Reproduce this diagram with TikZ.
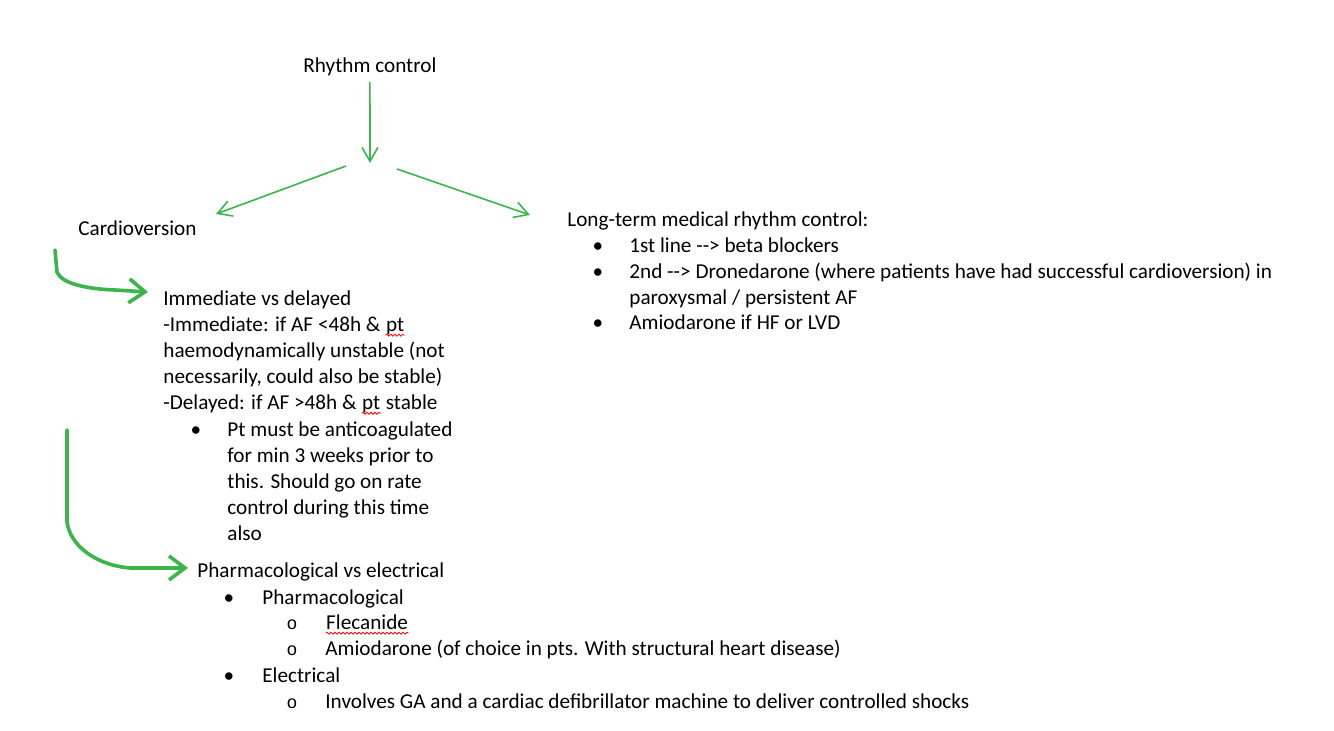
\documentclass[tikz,border=0pt]{standalone}
\usepackage{fontspec}
\setmainfont{Carlito}
\newfontfamily\listmono{Liberation Mono}
\usetikzlibrary{arrows.meta,decorations.pathmorphing}
\definecolor{arrowgreen}{RGB}{57,181,74}
\newcommand{\spellerr}[1]{\tikz[baseline=(w.base)]{\node[inner sep=0] (w) {#1};
  \draw[red,line width=0.4pt,decorate,decoration={snake,amplitude=0.5pt,segment length=2pt}] ([yshift=-1.6pt]w.base west) -- ([yshift=-1.6pt]w.base east);}}

\begin{document}
\begin{tikzpicture}[x=0.5pt,y=-0.5pt,
  every node/.style={font=\fontsize{10.6pt}{13pt}\selectfont},
  txt/.style={anchor=base west,inner sep=0,align=left},
  dot/.style={anchor=base,inner sep=0},
  thinarrow/.style={draw=arrowgreen,line width=0.8pt,-{Straight Barb[length=7pt,width=8pt]}},
  handarrow/.style={draw=arrowgreen,line width=1.8pt,line cap=round,line join=round,-{Straight Barb[length=8pt,width=12pt]}}]
\useasboundingbox (0,0) rectangle (1334,731);
% titles (multi-line nodes sit on the baseline of their last line)
\node[txt] (rhythm) at (303,73) {Rhythm control};
\node[txt] (cardio) at (78,236) {Cardioversion};
\node[txt] (longterm) at (567,227) {Long-term medical rhythm control:};
% long-term list
\node[dot] (lt1) at (598,253) {\textbullet};
\node[txt] (betablock) at (629,253) {1st line -\kern0pt-> beta blockers};
\node[dot] (lt2) at (598,279) {\textbullet};
\node[txt] (drone) at (629,305) {2nd -\kern0pt-> Dronedarone (where patients have had successful cardioversion) in\\paroxysmal / persistent AF};
\node[dot] (lt3) at (598,330) {\textbullet};
\node[txt] (amio) at (629,330) {Amiodarone if HF or LVD};
% immediate vs delayed
\node[txt] (timing) at (163,410) {Immediate vs delayed\\-Immediate: if AF <48h \& \spellerr{pt}\\haemodynamically unstable (not\\necessarily, could also be stable)\\-Delayed: if AF >48h \& \spellerr{pt} stable};
\node[dot] (tb1) at (196,437) {\textbullet};
\node[txt] (anticoag) at (227,541) {Pt must be anticoagulated\\for min 3 weeks prior to\\this. Should go on rate\\control during this time\\also};
% pharmacological vs electrical
\node[txt] (method) at (197,578) {Pharmacological vs electrical};
\node[dot] (mb1) at (229,605) {\textbullet};
\node[txt] (pharma) at (262,605) {Pharmacological};
\node[dot] (pb1) at (292,630) {\listmono\small o};
\node[txt] (fleca) at (325,630) {\spellerr{Flecanide}};
\node[dot] (pb2) at (292,656) {\listmono\small o};
\node[txt] (amiochoice) at (325,656) {Amiodarone (of choice in pts. With structural heart disease)};
\node[dot] (mb2) at (229,683) {\textbullet};
\node[txt] (elec) at (262,683) {Electrical};
\node[dot] (eb1) at (292,709) {\listmono\small o};
\node[txt] (shocks) at (325,709) {Involves GA and a cardiac defibrillator machine to deliver controlled shocks};
% arrow ends
\coordinate (fork) at (370,163);
\coordinate (forkL) at (346,166);
\coordinate (toCardio) at (216,214);
\coordinate (forkR) at (397,169);
\coordinate (toLong) at (530,215);
\coordinate (cvStart) at (55,250);
\coordinate (toTiming) at (148,292);
\coordinate (cvStart2) at (67,430);
\coordinate (toMethod) at (188,568);
% connectors
\draw[thinarrow,shorten <=2.5pt] (rhythm) -- (fork);
\draw[thinarrow] (forkL) -- (toCardio);
\draw[thinarrow] (forkR) -- (toLong);
\draw[handarrow] (cvStart) -- (57,272) .. controls (61,283) and (85,289) .. (115,290) -- (toTiming);
\draw[handarrow] (cvStart2) -- (67,522) .. controls (70,545) and (95,565) .. (130,568) -- (toMethod);
\end{tikzpicture}
\end{document}
